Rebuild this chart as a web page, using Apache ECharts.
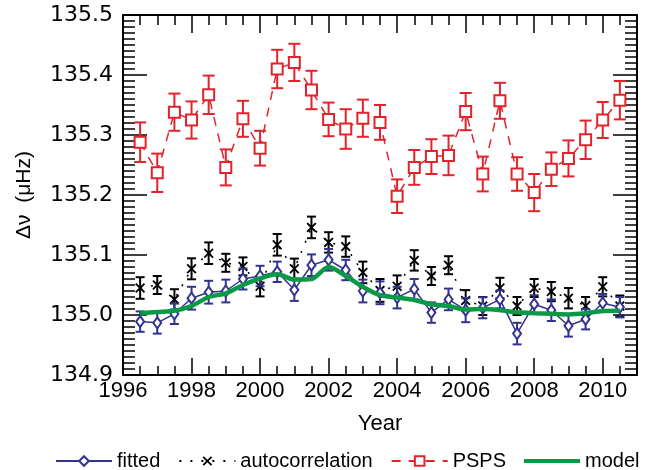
<!DOCTYPE html>
<html><head><meta charset="utf-8">
<script src="https://cdn.jsdelivr.net/npm/echarts@6/dist/echarts.min.js"></script>
<style>html,body{margin:0;padding:0;background:#fff}#c{width:653px;height:470px}</style>
</head><body><div id="c"></div>
<script>
var years = [1996.5,1997,1997.5,1998,1998.5,1999,1999.5,2000,2000.5,2001,2001.5,2002,2002.5,2003,2003.5,2004,2004.5,2005,2005.5,2006,2006.5,2007,2007.5,2008,2008.5,2009,2009.5,2010,2010.5];
var psps = [135.288,135.237,135.338,135.325,135.367,135.246,135.327,135.278,135.410,135.421,135.375,135.326,135.310,135.328,135.321,135.198,135.246,135.264,135.266,135.339,135.235,135.357,135.235,135.204,135.243,135.261,135.292,135.325,135.358];
var pspsErr = [0.033,0.032,0.031,0.031,0.032,0.030,0.030,0.029,0.032,0.031,0.032,0.028,0.033,0.031,0.029,0.028,0.029,0.029,0.033,0.031,0.029,0.030,0.028,0.031,0.028,0.030,0.032,0.030,0.032];
var fitted = [134.989,134.987,135.002,135.028,135.038,135.040,135.060,135.065,135.072,135.042,135.083,135.092,135.075,135.040,135.037,135.029,135.043,135.004,135.026,135.008,135.012,135.026,134.969,135.018,135.008,134.982,134.993,135.020,135.013];
var fittedErr = [0.017,0.018,0.017,0.019,0.019,0.019,0.0175,0.017,0.017,0.0185,0.018,0.018,0.017,0.019,0.019,0.018,0.017,0.017,0.018,0.020,0.0175,0.015,0.018,0.015,0.018,0.018,0.017,0.015,0.017];
var autocorr = [135.045,135.050,135.026,135.077,135.103,135.087,135.081,135.048,135.117,135.077,135.146,135.121,135.114,135.071,135.041,135.048,135.091,135.065,135.083,135.024,135.015,135.045,135.015,135.045,135.039,135.028,135.015,135.047,135.015];
var autocorrErr = [0.018,0.015,0.017,0.0175,0.018,0.015,0.015,0.017,0.018,0.017,0.018,0.017,0.017,0.018,0.019,0.018,0.017,0.015,0.015,0.0175,0.015,0.017,0.015,0.015,0.016,0.017,0.015,0.016,0.0175];
var model = [135.003,135.005,135.007,135.015,135.030,135.036,135.050,135.061,135.068,135.059,135.060,135.080,135.065,135.047,135.033,135.029,135.025,135.018,135.015,135.009,135.010,135.008,135.0045,135.003,135.002,135.001,135.003,135.0065,135.007];
var yTicks = [134.9,135.0,135.1,135.2,135.3,135.4,135.5];
var xTicks = [1996,1998,2000,2002,2004,2006,2008,2010];

var RED='#e3222b', BLUE='#33338f', BLACK='#000000', GREEN='#0a9a45';
function pairs(v){ return years.map(function(x,i){return [x,v[i]];}); }
function errData(v,e){ return years.map(function(x,i){return [x,v[i]-e[i],v[i]+e[i]];}); }
function errRender(cap,color){
  return function(params, api){
    var x=api.value(0), lo=api.value(1), hi=api.value(2);
    var p1=api.coord([x,lo]), p2=api.coord([x,hi]);
    var st={stroke:color,lineWidth:2};
    return {type:'group',children:[
      {type:'line',shape:{x1:p1[0],y1:p1[1],x2:p2[0],y2:p2[1]},style:st},
      {type:'line',shape:{x1:p1[0]-cap,y1:p1[1],x2:p1[0]+cap,y2:p1[1]},style:st},
      {type:'line',shape:{x1:p2[0]-cap,y1:p2[1],x2:p2[0]+cap,y2:p2[1]},style:st}
    ]};
  };
}
var XSYM='path://M0,1.3 L1.3,0 L5,3.7 L8.7,0 L10,1.3 L6.3,5 L10,8.7 L8.7,10 L5,6.3 L1.3,10 L0,8.7 L3.7,5 Z';
var FONT='Liberation Sans';
var axCommon = {
  axisLine:{lineStyle:{color:'#000',width:2}},
  splitLine:{show:false}
};
var chart = echarts.init(document.getElementById('c'));
chart.setOption({
  animation:false,
  backgroundColor:'#fff',
  textStyle:{fontFamily:FONT},
  grid:{left:123,right:16,top:15,bottom:95,containLabel:false},
  legend:{
    data:['fitted','autocorrelation','PSPS',{name:'model',icon:'path://M0,0 L60,0 L60,4.5 L0,4.5 Z'}],
    left:50, top:446, itemWidth:56, itemHeight:12, itemGap:18,
    textStyle:{fontFamily:FONT,fontSize:20,color:'#000'},
    inactiveColor:'#000'
  },
  xAxis:[
    Object.assign({type:'value',min:1996,max:2011,interval:2,position:'bottom',
      name:'Year',nameLocation:'middle',nameGap:38,
      nameTextStyle:{fontFamily:FONT,fontSize:22,color:'#000'},
      axisTick:{inside:true,length:17,lineStyle:{color:'#000',width:1.5}},
      minorTick:{show:true,splitNumber:4,length:9,lineStyle:{color:'#000',width:1.5}},
      axisLabel:{fontFamily:FONT,fontSize:22,color:'#000',margin:5,
        formatter:function(v){return xTicks.indexOf(v)>=0?String(v):'';}}
    },axCommon),
    Object.assign({type:'value',min:1996,max:2011,interval:2,position:'top',
      axisTick:{inside:true,length:18,lineStyle:{color:'#000',width:1.5}},
      minorTick:{show:true,splitNumber:4,length:10,lineStyle:{color:'#000',width:1.5}},
      axisLabel:{show:false}
    },axCommon)
  ],
  yAxis:[
    Object.assign({type:'value',min:134.9,max:135.5,interval:0.1,position:'left',
      name:'Δν  (μHz)',nameLocation:'middle',nameGap:88,nameRotate:90,
      nameTextStyle:{fontFamily:FONT,fontSize:21,color:'#000'},
      axisTick:{inside:true,length:24,lineStyle:{color:'#000',width:1.5}},
      minorTick:{show:true,splitNumber:10,length:12,lineStyle:{color:'#000',width:1.5}},
      axisLabel:{fontFamily:'DejaVu Sans',fontSize:22,color:'#000',margin:10,
        formatter:function(v){return v.toFixed(1);}}
    },axCommon),
    Object.assign({type:'value',min:134.9,max:135.5,interval:0.1,position:'right',
      axisTick:{inside:true,length:24,lineStyle:{color:'#000',width:1.5}},
      minorTick:{show:true,splitNumber:10,length:12,lineStyle:{color:'#000',width:1.5}},
      axisLabel:{show:false}
    },axCommon)
  ],
  series:[
    {type:'custom',name:'pspsErr',renderItem:errRender(6,RED),data:errData(psps,pspsErr),z:2,silent:true},
    {type:'line',name:'PSPS',data:pairs(psps),symbol:'emptyRect',symbolSize:11,
      lineStyle:{color:RED,width:1.5,type:[9,8]},itemStyle:{color:RED,borderWidth:2},z:3},
    {type:'custom',name:'acErr',renderItem:errRender(4.5,BLACK),data:errData(autocorr,autocorrErr),z:2,silent:true},
    {type:'line',name:'autocorrelation',data:pairs(autocorr),symbol:XSYM,symbolSize:10,
      lineStyle:{color:BLACK,width:1.5,type:[2,9]},itemStyle:{color:BLACK},z:3},
    {type:'custom',name:'fitErr',renderItem:errRender(4.5,BLUE),data:errData(fitted,fittedErr),z:4,silent:true},
    {type:'line',name:'fitted',data:pairs(fitted),symbol:'emptyDiamond',symbolSize:[8,11],
      lineStyle:{color:BLUE,width:1.5},itemStyle:{color:BLUE,borderWidth:1.5},z:5},
    {type:'line',name:'model',data:pairs(model),symbol:'none',smooth:0.3,
      lineStyle:{color:GREEN,width:4.5},itemStyle:{color:GREEN},z:6}
  ]
});
</script></body></html>
